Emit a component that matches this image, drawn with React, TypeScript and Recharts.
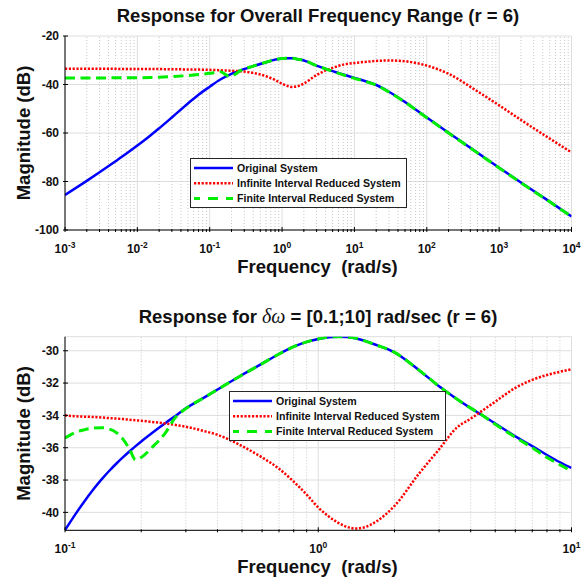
import React from "react";
import { LineChart, Line, XAxis, YAxis, CartesianGrid, ReferenceLine, Legend } from "recharts";

const FONT = "'Liberation Sans', Arial, Helvetica, sans-serif";

// overall frequency range, 1e-3 .. 1e4 rad/s (magnitudes in dB)
const wideFreq = [0.001, 0.002, 0.003, 0.005, 0.007, 0.01, 0.015, 0.02, 0.03, 0.05, 0.07, 0.1, 0.14, 0.19, 0.27, 0.4, 0.6, 0.8, 1, 1.2, 1.4, 1.7, 2, 3, 4, 5, 7, 10, 15, 20, 30, 50, 70, 100, 200, 500, 1000, 2000, 5000, 10000];
const wideOriginal = [-85.6, -79.73, -76.21, -71.66, -68.59, -65.18, -61.13, -58.07, -53.58, -47.81, -44.23, -40.9, -37.93, -35.9, -34.1, -32.4, -30.8, -29.75, -29.27, -29.13, -29.22, -29.65, -30.1, -32.2, -33.55, -34.5, -35.9, -37.25, -38.85, -40.2, -43.0, -47.2, -50.3, -53.6, -59.9, -68.1, -74.3, -80.4, -88.3, -94.4];
const wideInfinite = [-33.5, -33.5, -33.5, -33.55, -33.6, -33.6, -33.65, -33.65, -33.7, -33.8, -33.85, -33.95, -34.13, -34.3, -34.55, -35.2, -36.6, -38.1, -39.7, -40.65, -41.0, -40.55, -39.6, -36.1, -34.2, -33.15, -31.8, -31.15, -30.6, -30.3, -30.1, -30.4, -31.1, -32.2, -35.6, -42.8, -48.6, -54.6, -62.3, -68.0];
const wideFinite = [-37.3, -37.3, -37.28, -37.25, -37.22, -37.2, -37.1, -37.0, -36.75, -36.3, -35.9, -35.4, -34.76, -36.75, -34.2, -32.4, -30.8, -29.75, -29.27, -29.13, -29.22, -29.65, -30.1, -32.2, -33.55, -34.55, -36.0, -37.45, -38.95, -40.3, -43.1, -47.3, -50.4, -53.7, -60.0, -68.2, -74.4, -80.5, -88.4, -94.5];

// band 0.1 .. 10 rad/s
const bandFreq = [0.1, 0.11, 0.12, 0.13, 0.14, 0.15, 0.16, 0.17, 0.18, 0.19, 0.2, 0.22, 0.25, 0.27, 0.3, 0.35, 0.4, 0.5, 0.6, 0.7, 0.8, 0.9, 1, 1.1, 1.2, 1.3, 1.4, 1.5, 1.7, 2, 2.5, 3, 3.5, 4, 4.5, 5, 6, 7, 8, 9, 10];
const bandOriginal = [-41.1, -40.11, -39.26, -38.54, -37.93, -37.41, -36.96, -36.57, -36.22, -35.9, -35.61, -35.1, -34.45, -34.08, -33.56, -32.95, -32.4, -31.5, -30.8, -30.2, -29.75, -29.45, -29.27, -29.16, -29.13, -29.15, -29.22, -29.35, -29.65, -30.1, -31.2, -32.2, -32.95, -33.55, -34.05, -34.5, -35.3, -35.9, -36.45, -36.9, -37.25];
const bandInfinite = [-34.0, -34.05, -34.08, -34.1, -34.13, -34.17, -34.2, -34.23, -34.27, -34.3, -34.33, -34.4, -34.5, -34.58, -34.7, -34.95, -35.2, -35.9, -36.6, -37.3, -38.1, -38.9, -39.7, -40.25, -40.65, -40.9, -41.0, -40.95, -40.55, -39.6, -37.6, -36.1, -34.8, -34.2, -33.65, -33.15, -32.3, -31.8, -31.5, -31.3, -31.15];
const bandFinite = [-35.4, -35.05, -34.88, -34.78, -34.76, -34.85, -35.08, -35.5, -36.1, -36.75, -36.6, -36.0, -35.05, -34.22, -33.58, -32.95, -32.4, -31.5, -30.8, -30.2, -29.75, -29.45, -29.27, -29.16, -29.13, -29.15, -29.22, -29.35, -29.65, -30.1, -31.2, -32.2, -32.95, -33.55, -34.05, -34.55, -35.35, -36.0, -36.6, -37.05, -37.45];

const wideDecades = [-3, -2, -1, 0, 1, 2, 3, 4];
const bandDecades = [-1, 0, 1];
const wideMagTicks = [-100, -80, -60, -40, -20];
const bandMagTicks = [-40, -38, -36, -34, -32, -30];

const series = [
  { key: "orig", name: "Original System", color: "#0000ff", width: 2.5, dash: undefined, legendDash: undefined },
  { key: "inf", name: "Infinite Interval Reduced System", color: "#ff0000", width: 2.5, dash: "2.2 1.6", legendDash: "2.2 1.6" },
  { key: "fin", name: "Finite Interval Reduced System", color: "#00ee00", width: 3, dash: "10 5.5", legendDash: "6 8 10 8 7" },
];

const rows = (freq: number[], a: number[], b: number[], c: number[]) =>
  freq.map((f, i) => ({ f, orig: a[i], inf: b[i], fin: c[i] }));

const logTicks = (decades: number[]) => {
  const out: number[] = [];
  decades.forEach((d, i) => {
    out.push(10 ** d);
    if (i < decades.length - 1) for (let k = 2; k < 10; k++) out.push(k * 10 ** d);
  });
  return out;
};

const isDecade = (v: number) => Math.abs(Math.log10(v) - Math.round(Math.log10(v))) < 1e-6;

function FreqTick(props: any) {
  const { x, y, payload, side } = props;
  const v = payload.value;
  const major = isDecade(v);
  const len = major ? 5 : 3;
  const dy = side === "top" ? len : -len;
  return (
    <g>
      <line x1={x} y1={y} x2={x} y2={y + dy} stroke="#000" strokeWidth={1} />
      {side === "bottom" && major && (
        <text x={x} y={y + 21} textAnchor="middle" fontFamily={FONT} fontWeight="bold" fontSize={12} fill="#111">
          10<tspan dy={-5} fontSize={8.5}>{Math.round(Math.log10(v))}</tspan>
        </text>
      )}
    </g>
  );
}

function MagTick(props: any) {
  const { x, y, payload, side } = props;
  const dir = side === "left" ? 1 : -1;
  return (
    <g>
      <line x1={x} y1={y} x2={x + 5 * dir} y2={y} stroke="#000" strokeWidth={1} />
      {side === "left" && (
        <text x={x - 4} y={y} dy="0.36em" textAnchor="end" fontFamily={FONT} fontWeight="bold" fontSize={12} fill="#111">
          {payload.value}
        </text>
      )}
    </g>
  );
}

function LegendBox() {
  return (
    <div style={{ width: 217, height: 50, boxSizing: "border-box", border: "1px solid #262626", background: "#fff" }}>
      <svg width={215} height={48} style={{ display: "block" }}>
        {series.map((s, i) => {
          const cy = 9 + 15.3 * i;
          return (
            <g key={s.key}>
              <line x1={3} x2={42} y1={cy} y2={cy} stroke={s.color} strokeWidth={s.width} strokeDasharray={s.legendDash} />
              <text x={46} y={cy} dy="0.36em" fontFamily={FONT} fontWeight="bold" fontSize={10.6} fill="#111">
                {s.name}
              </text>
            </g>
          );
        })}
      </svg>
    </div>
  );
}

function Panel(props: any) {
  const { data, decades, magTicks, magDomain, height, top, xAxisHeight, legendLeft, legendTop } = props;
  const xTicks = logTicks(decades);
  const dom = [10 ** decades[0], 10 ** decades[decades.length - 1]];
  return (
    <LineChart width={581} height={height} data={data} margin={{ top, right: 9.5, bottom: 0, left: 25 }}>
      <CartesianGrid vertical={false} stroke="#dedede" />
      {xTicks.map((v) => (
        <ReferenceLine
          key={v}
          x={v}
          stroke={isDecade(v) ? "#dedede" : "#c8c8c8"}
          strokeDasharray={isDecade(v) ? undefined : "1 2"}
          strokeWidth={1}
        />
      ))}
      <XAxis dataKey="f" type="number" scale="log" domain={dom} ticks={xTicks} interval={0} tickLine={false} tickSize={0} height={xAxisHeight} axisLine={{ stroke: "#000" }} tick={<FreqTick side="bottom" />} allowDataOverflow />
      <XAxis xAxisId="top" orientation="top" dataKey="f" type="number" scale="log" domain={dom} ticks={xTicks} interval={0} tickLine={false} tickSize={0} height={0} axisLine={{ stroke: "#000" }} tick={<FreqTick side="top" />} allowDataOverflow />
      <YAxis type="number" domain={magDomain} ticks={magTicks} interval={0} tickLine={false} tickSize={0} width={40} axisLine={{ stroke: "#000" }} tick={<MagTick side="left" />} allowDataOverflow />
      <YAxis yAxisId="right" orientation="right" type="number" domain={magDomain} ticks={magTicks} interval={0} tickLine={false} tickSize={0} width={0} axisLine={{ stroke: "#000" }} tick={<MagTick side="right" />} allowDataOverflow />
      {series.map((s) => (
        <Line key={s.key} dataKey={s.key} name={s.name} type="monotone" stroke={s.color} strokeWidth={s.width} strokeDasharray={s.dash} dot={false} activeDot={false} isAnimationActive={false} />
      ))}
      <Legend content={<LegendBox />} layout="horizontal" verticalAlign="middle" align="center" wrapperStyle={{ left: legendLeft, top: legendTop, width: 217, height: 50 }} />
    </LineChart>
  );
}

export default function App() {
  const txt = { fontFamily: FONT, fontWeight: "bold" as const, fill: "#111" };
  return (
    <div style={{ position: "absolute", left: 0, top: 0, width: 581, height: 582, background: "#fff", overflow: "hidden" }}>
      <div style={{ position: "absolute", left: 0, top: 0 }}>
        <Panel data={rows(wideFreq, wideOriginal, wideInfinite, wideFinite)} decades={wideDecades} magTicks={wideMagTicks} magDomain={[-100, -20]} height={290} top={36} xAxisHeight={60} legendLeft={190} legendTop={158.3} />
      </div>
      <div style={{ position: "absolute", left: 0, top: 290 }}>
        <Panel data={rows(bandFreq, bandOriginal, bandInfinite, bandFinite)} decades={bandDecades} magTicks={bandMagTicks} magDomain={[-41.11, -29.13]} height={292} top={46.7} xAxisHeight={51.7} legendLeft={229} legendTop={101} />
      </div>
      <svg width={581} height={582} style={{ position: "absolute", left: 0, top: 0, pointerEvents: "none" }}>
        <text x={318} y={22} textAnchor="middle" fontSize={18.5} {...txt}>Response for Overall Frequency Range (r = 6)</text>
        <text x={317.5} y={273} textAnchor="middle" fontSize={18.5} {...txt}>{"Frequency\u00a0\u00a0(rad/s)"}</text>
        <text transform="translate(29.5,133) rotate(-90)" textAnchor="middle" fontSize={18.5} {...txt}>Magnitude (dB)</text>
        <text x={318} y={323} textAnchor="middle" fontSize={18.5} {...txt}>
          Response for <tspan fontFamily="'Liberation Serif', 'Times New Roman', serif" fontStyle="italic" fontWeight="normal" fontSize={20}>δω</tspan> = [0.1;10] rad/sec (r = 6)
        </text>
        <text x={317.5} y={573} textAnchor="middle" fontSize={18.5} {...txt}>{"Frequency\u00a0\u00a0(rad/s)"}</text>
        <text transform="translate(29.5,433.5) rotate(-90)" textAnchor="middle" fontSize={18.5} {...txt}>Magnitude (dB)</text>
      </svg>
    </div>
  );
}
